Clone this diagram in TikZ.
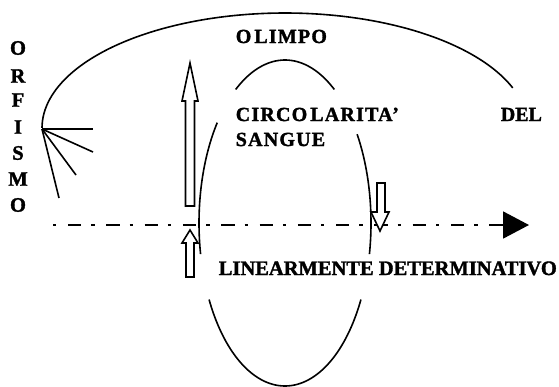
\documentclass[tikz,border=0pt]{standalone}
\usepackage{fontspec}
\setmainfont{Liberation Serif}[BoldFeatures={FakeBold=1.6}]
\newfontfamily\spacedfont{Liberation Serif}[LetterSpace=6,BoldFeatures={FakeBold=1.6}]
\usetikzlibrary{arrows.meta}
\begin{document}
\begin{tikzpicture}[x=1pt,y=-1pt,line width=1.6pt,line join=miter,
  lbl/.style={font=\fontsize{20}{24}\selectfont\bfseries,inner sep=0pt,anchor=base west},
  slbl/.style={font=\fontsize{20}{24}\selectfont\spacedfont\bfseries,inner sep=0pt,anchor=base west},
  vlet/.style={font=\fontsize{20.5}{22}\selectfont\bfseries,inner sep=0pt,anchor=center},
  hollow/.style={draw=black,fill=white,line width=1.6pt},
  axis/.style={line width=1.8pt,dash pattern=on 3.3pt off 11.7pt on 13.3pt off 10pt,
    -{Triangle[length=26pt,width=27pt]}}]
\useasboundingbox (0,0) rectangle (559,386);
% vertical word
\node[vlet] (o1) at (18,48) {O};
\node[vlet] (r1) at (18,76) {R};
\node[vlet] (f1) at (18,100) {F};
\node[vlet] (i1) at (18,127) {I};
\node[vlet] (s1) at (18,153) {S};
\node[vlet] (m1) at (18,179) {M};
\node[vlet] (o2) at (18,205) {O};
% labels
\node[slbl] (olimpo) at (235,43) {O\kern3pt LIMPO};
\node[slbl] (circ) at (235,121) {CIRCO\kern3pt LARITA’};
\node[slbl] (sangue) at (235,146) {SANGUE};
\node[lbl] (del) at (500,121) {DEL};
\node[lbl,font=\fontsize{20.5}{24}\selectfont\bfseries] (linear) at (218,275) {LINEARMENTE DETERMINATIVO};
% big arc
\draw plot[domain=180:339.6,samples=90,smooth] ({285+243*cos(\x)},{128+115*sin(\x)});
% fan
\coordinate (fan) at (42,129);
\coordinate (fa) at (93,129);
\coordinate (fb) at (93,152);
\coordinate (fc) at (76,175);
\coordinate (fd) at (59,198);
\draw (fan) -- (fa);
\draw (fan) -- (fb);
\draw (fan) -- (fc);
\draw (fan) -- (fd);
% axis
\coordinate (axL) at (53,225);
\coordinate (axR) at (529,225);
\draw[axis] (axL) -- (axR);
% hollow arrows
\draw[hollow] (185.5,206) -- (185.5,101) -- (182,101) -- (190,63) -- (198,101) -- (194.5,101) -- (194.5,206) -- cycle;
\draw[hollow] (186,277) -- (186,243) -- (182,243) -- (190,230) -- (198,243) -- (194,243) -- (194,277) -- cycle;
\draw[hollow] (377,183) -- (377,212) -- (371,212) -- (380,231) -- (389,212) -- (385,212) -- (385,183) -- cycle;
% ellipse pieces
\draw plot[domain=235:305,samples=40,smooth] ({285+86*cos(\x)},{223+163*sin(\x)});
\draw plot[domain=-33:11,samples=40,smooth] ({285+86*cos(\x)},{223+163*sin(\x)});
\draw plot[domain=28:152,samples=80,smooth] ({285+86*cos(\x)},{223+163*sin(\x)});
\draw plot[domain=169:218,samples=40,smooth] ({285+86*cos(\x)},{223+163*sin(\x)});
\end{tikzpicture}
\end{document}
